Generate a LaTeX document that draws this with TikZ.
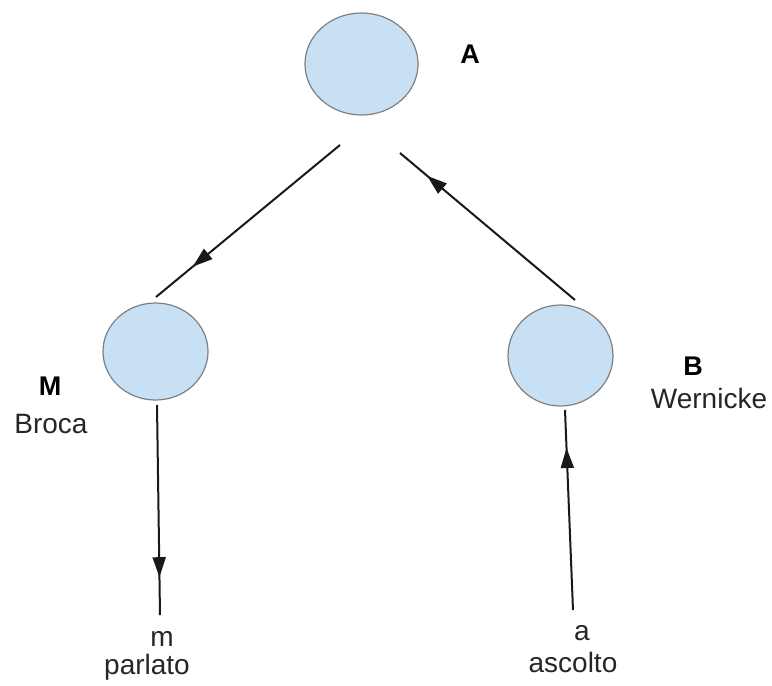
\documentclass[tikz,border=0pt]{standalone}
\usepackage{fontspec}
\setmainfont{Liberation Sans}
\usetikzlibrary{arrows.meta,decorations.markings,shapes.geometric}
\definecolor{cfill}{RGB}{200,224,244}
\definecolor{cline}{RGB}{125,128,132}
\tikzset{
  circ/.style={ellipse, draw=cline, line width=1.2pt, fill=cfill, inner sep=0pt},
  lbl/.style={font=\fontsize{28}{32}\selectfont, text=black!85, align=center, inner sep=0pt},
  blbl/.style={font=\fontsize{27}{31}\selectfont\bfseries, text=black, inner sep=0pt},
  conn/.style={line width=2pt, draw=black!90, postaction={decorate},
    decoration={markings, mark=at position #1 with {\arrow{Triangle[length=20pt,width=13pt]}}}}
}
\begin{document}
\begin{tikzpicture}[x=1pt,y=-1pt]
\useasboundingbox (0,0) rectangle (772,686);
\fill[white] (0,0) rectangle (772,686);
% circles
\node[circ, minimum width=113pt, minimum height=102pt] (A) at (361.5,64) {};
\node[circ, minimum width=105pt, minimum height=97pt] (M) at (155.5,351.5) {};
\node[circ, minimum width=105pt, minimum height=101pt] (B) at (560.5,355.5) {};
% labels
\node[blbl] (Al) at (470,54) {A};
\node[blbl] (Ml) at (50,386) {M};
\node[lbl] (Mt) at (51,424) {Broca};
\node[blbl] (Bl) at (693,366) {B};
\node[lbl] (Bt) at (709,398) {Wernicke};
\node[lbl] (mo) at (162,639) {m};
\node[lbl] (mt) at (147,667) {parlato};
\node[lbl] (ao) at (582,633) {a};
\node[lbl] (at2) at (573,662) {ascolto};
% connector end points
\coordinate (am1) at (340,145);
\coordinate (am2) at (156,297);
\coordinate (ba1) at (575,300);
\coordinate (ba2) at (400,153);
\coordinate (mm1) at (157,405);
\coordinate (mm2) at (160,615);
\coordinate (ab1) at (573,610);
\coordinate (ab2) at (565,410);
\draw[conn=0.80] (am1) -- (am2);
\draw[conn=0.845] (ba1) -- (ba2);
\draw[conn=0.82] (mm1) -- (mm2);
\draw[conn=0.81] (ab1) -- (ab2);
\end{tikzpicture}
\end{document}
